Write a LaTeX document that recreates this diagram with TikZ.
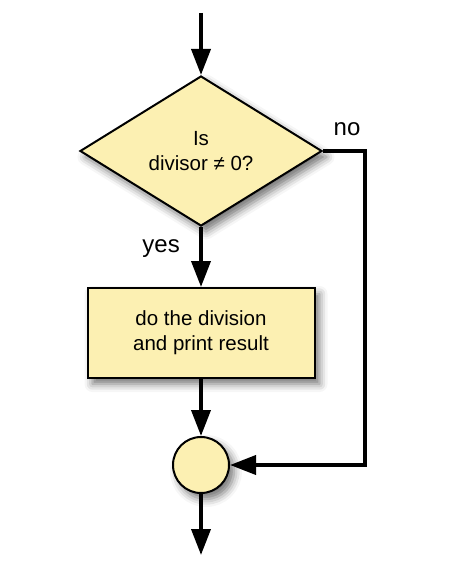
\documentclass[tikz,border=0pt]{standalone}
\usepackage{fontspec}
\setmainfont{Liberation Sans}
\usepackage{xcolor}
\usetikzlibrary{arrows.meta, positioning, shapes.geometric, shadows.blur}
\definecolor{flowyellow}{RGB}{252,240,178}

\begin{document}
\begin{tikzpicture}[x=1pt, y=-1pt, font=\fontsize{20.5}{25}\selectfont,
	flow/.style={line width=3.8pt, -{Triangle[length=26pt, width=19pt]}},
	answer/.style={font=\fontsize{24}{28}\selectfont},
	block/.style={draw, line width=2pt, fill=flowyellow, align=center,
		blur shadow={shadow xshift=5pt, shadow yshift=-6pt, shadow opacity=55, shadow blur radius=8pt}}]
	\useasboundingbox (0,0) rectangle (450,577);

	% Nodes
	\coordinate (start) at (201,13);
	\node[block, diamond, aspect=1.61, minimum width=242pt, minimum height=150pt, inner sep=0pt] (test) at (201,151) {Is\\divisor ≠ 0?};
	\node[block, minimum width=227pt, minimum height=90pt] (work) at (201,333) {do the division\\and print result};
	\node[block, circle, minimum size=56pt, inner sep=0pt] (join) at (201,465) {};
	\coordinate (bend) at (365,151);
	\coordinate (stop) at (201,555);

	% Connectors
	\draw[flow] (start) -- (test.north);
	\draw[flow] (test.south) -- node[answer, pos=0.36, left=16pt] {yes} (work.north);
	\draw[flow] (work.south) -- (join.north);
	\draw[flow] (test.east) -- node[answer, above=10pt, xshift=3pt] {no} (bend) |- (join.east);
	\draw[flow] (join.south) -- (stop);
\end{tikzpicture}
\end{document}
